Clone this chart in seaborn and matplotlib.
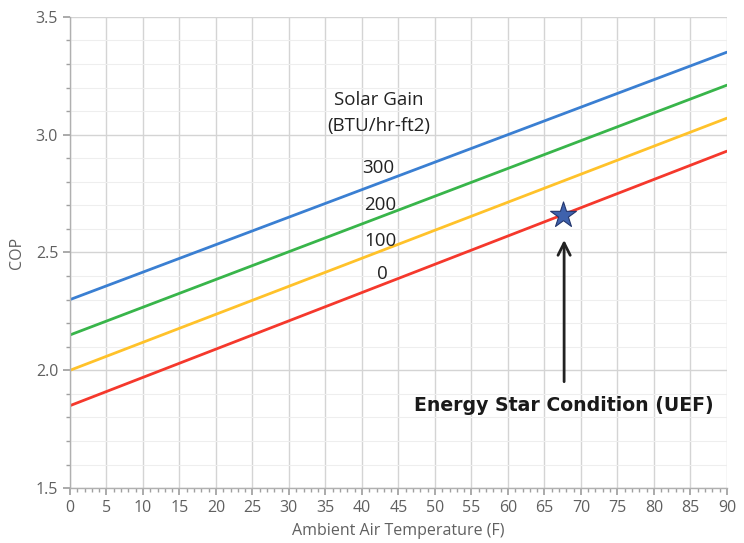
import pandas as pd
import matplotlib
matplotlib.use("Agg")
import matplotlib.pyplot as plt
from matplotlib.ticker import MultipleLocator
import seaborn as sns

# Data (lines are straight, so endpoints are enough)
temps = [0, 90]
cop_0 = [1.85, 2.93]
cop_100 = [2.00, 3.07]
cop_200 = [2.15, 3.21]
cop_300 = [2.30, 3.35]
gain_labels = ["0", "100", "200", "300"]
line_colors = ["#f5382c", "#ffc22a", "#38b54a", "#3a7fd2"]

uef_temp = [67.5]
uef_cop = [2.66]

rows = []
for lab, vals in zip(gain_labels, [cop_0, cop_100, cop_200, cop_300]):
    for t, v in zip(temps, vals):
        rows.append({"temp": t, "cop": v, "gain": lab})
df = pd.DataFrame(rows)

sns.set_theme(style="whitegrid")
plt.rcParams["font.family"] = ["Open Sans", "DejaVu Sans"]

fig = plt.figure(figsize=(7.44, 5.43), dpi=100)
ax = fig.add_axes([0.094, 0.101, 0.883, 0.868])

sns.lineplot(data=df, x="temp", y="cop", hue="gain", hue_order=gain_labels,
             palette=line_colors, linewidth=2, legend=False, ax=ax)

sns.scatterplot(x=uef_temp, y=uef_cop, marker="*", s=380, color="#3f62ad",
                edgecolor="#22366e", linewidth=0.8, zorder=5, ax=ax)

ax.set_xlim(0, 90)
ax.set_ylim(1.5, 3.5)
ax.xaxis.set_major_locator(MultipleLocator(5))
ax.xaxis.set_minor_locator(MultipleLocator(1))
ax.yaxis.set_major_locator(MultipleLocator(0.5))
ax.yaxis.set_minor_locator(MultipleLocator(0.1))
ax.yaxis.set_major_formatter(matplotlib.ticker.FormatStrFormatter("%.1f"))

ax.grid(which="major", axis="x", color="#d4d4d4", linewidth=1.0)
ax.grid(which="major", axis="y", color="#d4d4d4", linewidth=1.0)
ax.grid(which="minor", axis="y", color="#eeeeee", linewidth=0.8)
ax.tick_params(which="both", bottom=True, left=True, color="#a0a0a0")
ax.tick_params(which="major", length=5, labelsize=11.5, labelcolor="#606060")
ax.tick_params(which="minor", length=3)
for side in ["top", "right"]:
    ax.spines[side].set_visible(False)
for side in ["left", "bottom"]:
    ax.spines[side].set_color("#b0b0b0")
    ax.spines[side].set_linewidth(1.0)

ax.set_xlabel("Ambient Air Temperature (F)", fontsize=11.5, color="#606060", labelpad=5)
ax.set_ylabel("COP", fontsize=11.5, color="#606060", labelpad=8)

# Solar gain annotations
ax.text(42.3, 3.145, "Solar Gain", ha="center", va="center", fontsize=13.5, color="#222222")
ax.text(42.3, 3.035, "(BTU/hr-ft2)", ha="center", va="center", fontsize=13.5, color="#222222")
for lab, yv, xv in zip(gain_labels, [2.41, 2.55, 2.70, 2.86], [42.8, 42.5, 42.5, 42.3]):
    ax.text(xv, yv, lab, ha="center", va="center", fontsize=13.5, color="#222222")

# Energy Star callout
ax.annotate("", xy=(67.7, 2.565), xytext=(67.7, 1.94),
            arrowprops=dict(arrowstyle="->", color="#222222", lw=2, mutation_scale=22))
ax.text(67.7, 1.85, "Energy Star Condition (UEF)", ha="center", va="center",
        fontsize=13.6, fontweight="bold", color="#1a1a1a", family="DejaVu Sans")

fig.savefig("out.png", dpi=100)
